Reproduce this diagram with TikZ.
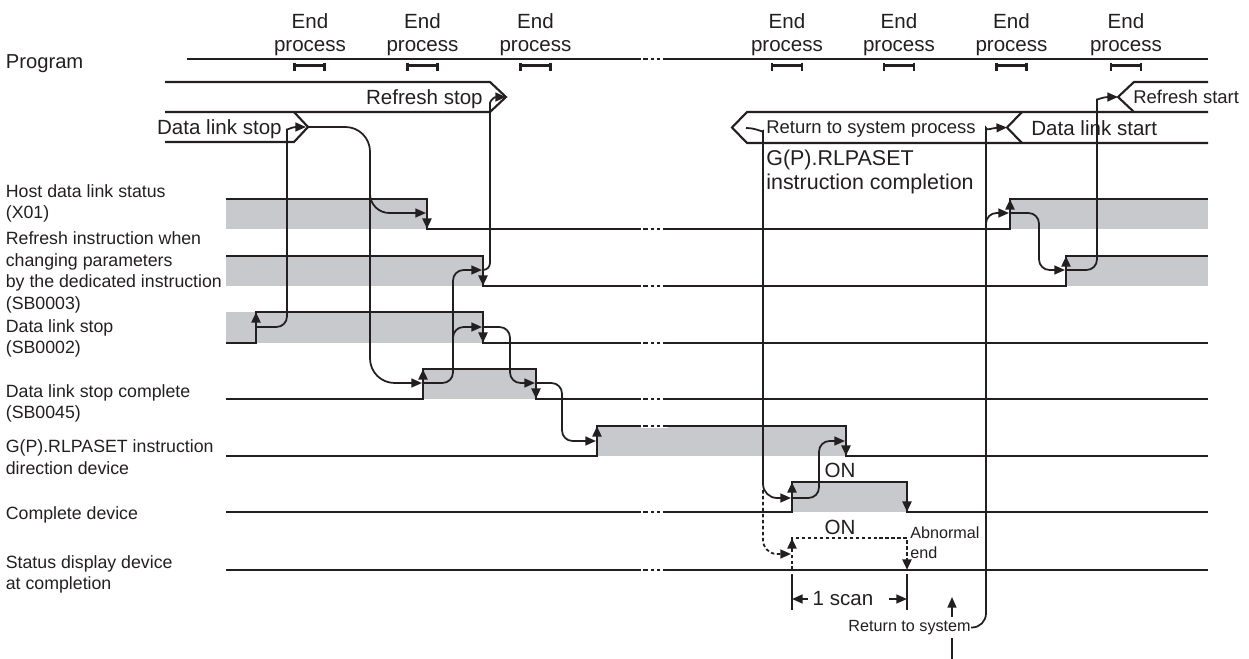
\documentclass[tikz,border=0pt]{standalone}
\usepackage{fontspec}
\setmainfont{Liberation Sans}
\usepackage{tikz}
\usetikzlibrary{arrows.meta}
\definecolor{TCInk}{RGB}{35,31,32}
\definecolor{TCShade}{RGB}{200,201,204}

\begin{document}
\begin{tikzpicture}[x=0.02cm, y=-0.02cm,
    wave/.style={TCInk, line width=1.5pt},
    conn/.style={TCInk, line width=1pt, rounded corners=6pt},
    band/.style={TCInk, line width=1.2pt},
    endmark/.style={TCInk, line width=1.3pt},
    arr/.style={-{Triangle[length=6pt, width=5pt]}},
    dots/.style={dash pattern=on 2pt off 1.4pt},
    brk/.style={preaction={draw=white, solid, line width=2.2pt},
                dash pattern=on 2.8pt off 1.7pt on 1.7pt off 1.7pt on 1.7pt off 1.7pt on 2.8pt off 1.1pt,
                dash phase=14.1pt},
    sig/.style={font=\fontsize{10.1}{12.2}\selectfont, TCInk, align=left, anchor=west, inner sep=0pt},
    big/.style={font=\fontsize{11.7}{13.2}\selectfont, TCInk, inner sep=0pt},
    mid/.style={font=\fontsize{10.5}{12.5}\selectfont, TCInk, inner sep=0pt},
    small/.style={font=\fontsize{9.2}{11.3}\selectfont, TCInk, inner sep=0pt, align=left}
  ]
  \useasboundingbox (0,0) rectangle (1249,659);

  % Program line and end processes
  \node[big, anchor=west, font=\fontsize{11.5}{13}\selectfont] (prog) at (5.5,63.5) {Program};
  \draw[wave] (187,59) -- (1208,59);
  \node[big, align=center] (ep1) at (310,35) {End\\process};
  \node[big, align=center] (ep2) at (422.5,35) {End\\process};
  \node[big, align=center] (ep3) at (535.5,35) {End\\process};
  \node[big, align=center] (ep4) at (787,35) {End\\process};
  \node[big, align=center] (ep5) at (899,35) {End\\process};
  \node[big, align=center] (ep6) at (1011.5,35) {End\\process};
  \node[big, align=center] (ep7) at (1126,35) {End\\process};
  \draw[endmark] (294.5,62.5) -- (294.5,70.5) (294.5,65.5) -- (324.5,65.5) (324.5,62.5) -- (324.5,70.5);
  \draw[endmark] (407.5,62.5) -- (407.5,70.5) (407.5,65.5) -- (437.5,65.5) (437.5,62.5) -- (437.5,70.5);
  \draw[endmark] (520.5,62.5) -- (520.5,70.5) (520.5,65.5) -- (550.5,65.5) (550.5,62.5) -- (550.5,70.5);
  \draw[endmark] (772,62.5) -- (772,70.5) (772,65.5) -- (802,65.5) (802,62.5) -- (802,70.5);
  \draw[endmark] (884,62.5) -- (884,70.5) (884,65.5) -- (914,65.5) (914,62.5) -- (914,70.5);
  \draw[endmark] (996.5,62.5) -- (996.5,70.5) (996.5,65.5) -- (1026.5,65.5) (1026.5,62.5) -- (1026.5,70.5);
  \draw[endmark] (1111,62.5) -- (1111,70.5) (1111,65.5) -- (1141,65.5) (1141,62.5) -- (1141,70.5);

  % Process bands
  \draw[band] (165,82) -- (490,82) -- (506,97) -- (490,112) -- (165,112);
  \draw[band] (294,112) -- (308,127) -- (294,142) -- (165,142);
  \coordinate (rstip) at (506,97);
  \coordinate (dlstip) at (308,127);
  \node[big, anchor=east] (rstop) at (483,99) {Refresh stop};
  \node[big, anchor=east] (dlstop) at (282,129) {Data link stop};
  \draw[band] (1208,112) -- (747,112) -- (732,127.5) -- (747,143) -- (1208,143);
  \draw[band] (1022,112) -- (1007,127.5) -- (1022,143);
  \draw[band] (1208,82) -- (1134,82) -- (1118,97) -- (1134,112);
  \coordinate (rtip) at (746,128);
  \coordinate (dsttip) at (1007,127.5);
  \coordinate (rsttip) at (1118,97);
  \node[mid, anchor=west] (rtsp) at (766,129.5) {Return to system process};
  \node[big, anchor=west] (dlstart) at (1031,128) {Data link start};
  \node[mid, anchor=west] (rstart) at (1133,97) {Refresh start};
  \node[TCInk, anchor=west, align=left, inner sep=0pt, font=\fontsize{12.2}{13.9}\selectfont]
       (gpdone) at (766,171.8) {G(P).RLPASET\\instruction completion};

  % Signal names
  \node[sig] (hdl) at (5.5,203.3) {Host data link status\\(X01)};
  \node[sig] (rfi) at (5.5,272.3) {Refresh instruction when\\changing parameters\\by the dedicated instruction\\(SB0003)};
  \node[sig] (dls) at (5.5,338.2) {Data link stop\\(SB0002)};
  \node[sig] (dlc) at (5.5,403.5) {Data link stop complete\\(SB0045)};
  \node[sig] (gpd) at (5.5,457.3) {G(P).RLPASET instruction\\direction device};
  \node[sig] (cpd) at (5.5,515) {Complete device};
  \node[sig] (sdd) at (5.5,574.2) {Status display device\\at completion};

  % ON periods
  \fill[TCShade] (226,199) rectangle (427,229);
  \fill[TCShade] (1010,199) rectangle (1208,229);
  \fill[TCShade] (226,256) rectangle (483,286);
  \fill[TCShade] (1066,256) rectangle (1208,286);
  \fill[TCShade] (226,312) rectangle (483,343);
  \fill[TCShade] (423,369) rectangle (536,399);
  \fill[TCShade] (597,426) rectangle (846,456);
  \fill[TCShade] (792,482) rectangle (907,512);

  % Waveforms
  \draw[wave] (226,199) -- (427,199) -- (427,229) -- (1010,229) -- (1010,199) -- (1208,199);
  \draw[wave] (226,256) -- (483,256) -- (483,286) -- (1066,286) -- (1066,256) -- (1208,256);
  \draw[wave] (226,343) -- (256,343) -- (256,312) -- (483,312) -- (483,343) -- (1208,343);
  \draw[wave] (226,399) -- (423,399) -- (423,369) -- (536,369) -- (536,399) -- (1208,399);
  \draw[wave] (226,456) -- (597,456) -- (597,426) -- (846,426) -- (846,456) -- (1208,456);
  \draw[wave] (226,512) -- (792,512) -- (792,482) -- (907,482) -- (907,512) -- (1208,512);
  \draw[wave] (226,570) -- (1208,570);
  \draw[wave, line width=1.2pt, dots] (792,570) -- (792,538) -- (907,538) -- (907,570);
  \draw[wave, brk] (641,59) -- (668,59) (641,229) -- (668,229) (641,286) -- (668,286)
       (641,343) -- (668,343) (641,399) -- (668,399) (641,426) -- (668,426)
       (641,512) -- (668,512) (641,570) -- (668,570);

  % Edge marks
  \draw[wave, arr] (427,217) -- (427,229);
  \draw[wave, arr] (1010,211) -- (1010,199);
  \draw[wave, arr] (483,274) -- (483,286);
  \draw[wave, arr] (1066,268) -- (1066,256);
  \draw[wave, arr] (256,324) -- (256,312);
  \draw[wave, arr] (483,331) -- (483,343);
  \draw[wave, arr] (423,381) -- (423,369);
  \draw[wave, arr] (536,387) -- (536,399);
  \draw[wave, arr] (597,438) -- (597,426);
  \draw[wave, arr] (846,444) -- (846,456);
  \draw[wave, arr] (792,494) -- (792,482);
  \draw[wave, arr] (907,500) -- (907,512);
  \draw[wave, arr] (792,549) -- (792,538);
  \draw[wave, arr] (907,559) -- (907,570);

  % Cause and effect
  \draw[conn, arr] (256,327) -- (287,327) -- (287,140) .. controls (287,130) and (292,127) .. (306,127);
  \draw[conn, rounded corners=14pt, arr] (dlstip) -- (370,127) -- (370,383) -- (422,383);
  \draw[conn, rounded corners=11pt, arr] (370,180) -- (370,213) -- (426,213);
  \draw[conn, arr] (423,383) -- (453,383) -- (453,270) -- (482,270);
  \draw[conn, arr] (453,345) -- (453,327) -- (482,327);
  \draw[conn, rounded corners=4pt, arr] (483,270) -- (490,270) -- (490,110) .. controls (490,101) and (494,97) .. (rstip);
  \draw[conn, arr] (483,327) -- (510,327) -- (510,383) -- (535,383);
  \draw[conn, arr] (536,383) -- (562,383) -- (562,441) -- (596,441);
  \draw[conn, rounded corners=8pt, arr] (rtip) .. controls (757,128) and (763,133) .. (763,145) -- (763,498) -- (791,498);
  \draw[conn, rounded corners=8pt, dots, arr] (763,490) -- (763,554) -- (791,554);
  \draw[conn, arr] (792,498) -- (819,498) -- (819,441) -- (845,441);

  \node[big] (on1) at (840,470) {ON};
  \node[big] (on2) at (840,527) {ON};
  \node[small, anchor=west] (abn) at (910,543) {Abnormal\\end};

  % 1 scan
  \coordinate (scanl) at (792,599);
  \coordinate (scanr) at (907,599);
  \draw[wave] (792,574) -- (792,610) (907,574) -- (907,610);
  \node[big] (scan) at (843,599) {1 scan};
  \draw[conn, arr] ([xshift=-2.5pt]scan.west) -- (scanl);
  \draw[conn, arr] ([xshift=8.8pt]scan.east) -- (scanr);

  % Return to system
  \coordinate (rtsin) at (952,659);
  \draw[conn, arr] (rtsin) -- (952,597);
  \node[small, anchor=east, fill=white, inner ysep=2pt] (rts) at (971,627.5) {Return to system};
  \draw[conn, rounded corners=8pt, arr] (rts.east) -| (986,142) .. controls (986,131) and (992,128) .. (dsttip);
  \draw[conn, arr] (986,226) -- (986,213) -- (1009,213);
  \draw[conn, arr] (1010,213) -- (1039,213) -- (1039,270) -- (1065,270);
  \draw[conn, arr] (1066,270) -- (1097,270) -- (1097,110) .. controls (1097,100) and (1103,97) .. (rsttip);
\end{tikzpicture}
\end{document}
